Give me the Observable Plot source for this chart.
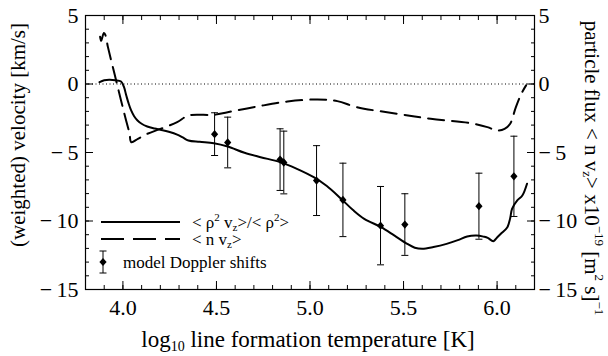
<!DOCTYPE html>
<html><head><meta charset="utf-8">
<script src="https://cdn.jsdelivr.net/npm/d3@7"></script>
<script src="https://cdn.jsdelivr.net/npm/@observablehq/plot@0.6"></script>
<style>
body{margin:0;background:#fff;}
#chart{width:608px;height:356px;}
</style></head><body><div id="chart"></div>
<script>
// --- data ---
const solidX = [3.875,3.90,3.93,3.96,3.99,4.005,4.018,4.03,4.044,4.06,4.078,4.10,4.13,4.17,4.20,4.25,4.29,4.32,4.35,4.41,4.486,4.56,4.65,4.736,4.84,4.93,5.02,5.09,5.164,5.23,5.29,5.38,5.45,5.52,5.56,5.60,5.66,5.73,5.79,5.84,5.89,5.93,5.95,5.98,6.00,6.02,6.055,6.07,6.08,6.108,6.135,6.16];
const solidY = [0.13,0.28,0.31,0.27,0.18,-0.2,-0.84,-1.4,-1.93,-2.35,-2.66,-2.9,-3.1,-3.25,-3.34,-3.5,-3.69,-3.9,-4.12,-4.22,-4.32,-4.56,-5.02,-5.34,-5.7,-6.19,-6.8,-7.45,-8.35,-9.2,-9.84,-10.45,-11.05,-11.67,-11.95,-12.03,-11.9,-11.67,-11.4,-11.13,-11.06,-11.15,-11.23,-11.47,-11.2,-10.93,-10.45,-9.8,-9.11,-8.5,-8.14,-7.28];
const dashX = [3.878,3.884,3.898,3.905,3.92,3.955,3.99,4.017,4.035,4.045,4.08,4.13,4.20,4.29,4.35,4.486,4.56,4.72,4.88,5.04,5.146,5.25,5.47,5.645,5.86,5.948,6.0,6.04,6.07,6.10,6.13,6.155];
const dashY = [3.45,3.15,3.72,3.62,2.69,0.74,-1.2,-2.66,-3.6,-4.25,-4.0,-3.64,-3.28,-2.79,-2.3,-2.25,-2.06,-1.64,-1.28,-1.13,-1.25,-1.69,-2.18,-2.54,-2.86,-3.15,-3.39,-3.27,-2.9,-1.7,-0.7,-0.1];
const obsX = [4.49,4.56,4.84,4.86,5.035,5.176,5.377,5.507,5.903,6.09];
const obsY = [-3.66,-4.27,-5.52,-5.73,-7.05,-8.46,-10.34,-10.26,-8.92,-6.74];
const obsErr = [1.56,1.85,2.25,2.29,2.55,2.68,2.86,2.25,2.41,2.93];
const xTicks = [4.0,4.5,5.0,5.5,6.0];
const xTickLabels = ["4.0","4.5","5.0","5.5","6.0"];
const xMinor = [3.8,3.9,4.0,4.1,4.2,4.3,4.4,4.5,4.6,4.7,4.8,4.9,5.0,5.1,5.2,5.3,5.4,5.5,5.6,5.7,5.8,5.9,6.0,6.1,6.2];
const yTicks = [-15,-10,-5,0,5];
const yTickLabels = ["\u2212\u200915","\u2212\u200910","\u2212\u20095","0","5"];
const yMinor = [-15,-14,-13,-12,-11,-10,-9,-8,-7,-6,-5,-4,-3,-2,-1,0,1,2,3,4,5];

const solid = solidX.map((x,i)=>({x, y: solidY[i]}));
const dash = dashX.map((x,i)=>({x, y: dashY[i]}));
const obs = obsX.map((x,i)=>({x, y: obsY[i], e: obsErr[i]}));

const capSym = {draw(ctx, size){ const r = Math.sqrt(size/Math.PI); ctx.moveTo(-r,0); ctx.lineTo(r,0); }};
const diaSym = {draw(ctx, size){ const r = Math.sqrt(size/Math.PI); ctx.moveTo(0,-r*1.15); ctx.lineTo(r,0); ctx.lineTo(0,r*1.15); ctx.lineTo(-r,0); ctx.closePath(); }};

const xLab = d => xTickLabels[xTicks.indexOf(d)];
const yLab = d => yTickLabels[yTicks.indexOf(d)];
const blank = () => "";

const FONT = "Liberation Serif";
const plot = Plot.plot({
  width: 608, height: 356,
  marginLeft: 85, marginRight: 74, marginTop: 15, marginBottom: 67,
  x: {domain: [3.8, 6.2]},
  y: {domain: [-15, 5]},
  style: {fontFamily: FONT, fontSize: "22px", color: "black", background: "white"},
  marks: [
    Plot.ruleY([0], {stroke: "black", strokeWidth: 1, strokeDasharray: "1,2.5"}),
    Plot.line(solid, {x: "x", y: "y", stroke: "black", strokeWidth: 2, curve: "catmull-rom"}),
    Plot.line(dash, {x: "x", y: "y", stroke: "black", strokeWidth: 2, strokeDasharray: "16,8", curve: "catmull-rom"}),
    Plot.ruleX(obs, {x: "x", y1: d => d.y - d.e, y2: d => d.y + d.e, stroke: "black", strokeWidth: 1}),
    Plot.dot(obs, {x: "x", y: d => d.y - d.e, symbol: capSym, r: 3.5, stroke: "black", fill: "none", strokeWidth: 1}),
    Plot.dot(obs, {x: "x", y: d => d.y + d.e, symbol: capSym, r: 3.5, stroke: "black", fill: "none", strokeWidth: 1}),
    Plot.dot(obs, {x: "x", y: "y", symbol: diaSym, r: 3.6, fill: "black", stroke: "none"}),
    Plot.frame({stroke: "black", strokeWidth: 1.2}),
    Plot.axisX(xMinor, {anchor: "bottom", tickSize: -4, tickFormat: blank, label: null}),
    Plot.axisX(xMinor, {anchor: "top", tickSize: -4, tickFormat: blank, label: null}),
    Plot.axisX(xTicks, {anchor: "bottom", tickSize: -8, tickFormat: blank, label: null}),
    Plot.axisX(xTicks, {anchor: "top", tickSize: -8, tickFormat: blank, label: null}),
    Plot.axisX(xTicks, {anchor: "bottom", tickSize: 0, tickPadding: 10, tickFormat: xLab, label: null}),
    Plot.axisY(yMinor, {anchor: "left", tickSize: -4, tickFormat: blank, label: null}),
    Plot.axisY(yMinor, {anchor: "right", tickSize: -4, tickFormat: blank, label: null}),
    Plot.axisY(yTicks, {anchor: "left", tickSize: -8, tickFormat: blank, label: null}),
    Plot.axisY(yTicks, {anchor: "right", tickSize: -8, tickFormat: blank, label: null}),
    Plot.axisY(yTicks, {anchor: "left", tickSize: 0, tickPadding: 7, tickFormat: yLab, label: null}),
    Plot.axisY(yTicks, {anchor: "right", tickSize: 0, tickPadding: 4, tickFormat: yLab, label: null})
  ]
});
document.getElementById("chart").appendChild(plot);

// --- titles and legend (rich text) ---
const svg = d3.select(plot);
const g = svg.append("g").attr("font-family", FONT).attr("fill", "black");

// x title
const xt = g.append("text").attr("x", 308).attr("y", 347).attr("text-anchor", "middle").attr("font-size", 23);
xt.append("tspan").text("log");
xt.append("tspan").attr("font-size", 14).attr("dy", 4).text("10");
xt.append("tspan").attr("dy", -4).text(" line formation temperature [K]");

// left title
g.append("text").attr("transform", "translate(18,135) rotate(-90)").attr("text-anchor", "middle")
  .attr("dominant-baseline", "central").attr("font-size", 21).text("(weighted) velocity [km/s]");

// right title
const rt = g.append("text").attr("transform", "translate(592,168) rotate(90)").attr("text-anchor", "middle")
  .attr("dominant-baseline", "central").attr("font-size", 21);
rt.append("tspan").text("particle flux < n v");
rt.append("tspan").attr("font-size", 13).attr("dy", 4).text("z");
rt.append("tspan").attr("dy", -4).text("> x10");
rt.append("tspan").attr("font-size", 13).attr("dy", -8).text("\u221219");
rt.append("tspan").attr("dy", 8).text(" [m");
rt.append("tspan").attr("font-size", 13).attr("dy", -8).text("2");
rt.append("tspan").attr("dy", 8).text(" s]");
rt.append("tspan").attr("font-size", 13).attr("dy", -8).text("\u22121");

// legend
const lg = g.append("g").attr("font-size", 17).attr("text-anchor", "start");
lg.append("line").attr("x1", 101).attr("x2", 180).attr("y1", 222).attr("y2", 222).attr("stroke", "black").attr("stroke-width", 2);
lg.append("line").attr("x1", 101).attr("x2", 180).attr("y1", 239).attr("y2", 239).attr("stroke", "black").attr("stroke-width", 2).attr("stroke-dasharray", "23,9");
const t1 = lg.append("text").attr("x", 192).attr("y", 228);
t1.append("tspan").text("< \u03c1");
t1.append("tspan").attr("font-size", 11).attr("dy", -7).text("2");
t1.append("tspan").attr("dy", 7).text(" v");
t1.append("tspan").attr("font-size", 11).attr("dy", 3).text("z");
t1.append("tspan").attr("dy", -3).text(">/< \u03c1");
t1.append("tspan").attr("font-size", 11).attr("dy", -7).text("2");
t1.append("tspan").attr("dy", 7).text(">");
const t2 = lg.append("text").attr("x", 192).attr("y", 245);
t2.append("tspan").text("< n v");
t2.append("tspan").attr("font-size", 11).attr("dy", 3).text("z");
t2.append("tspan").attr("dy", -3).text(">");
lg.append("line").attr("x1", 103).attr("x2", 103).attr("y1", 251).attr("y2", 273).attr("stroke", "black");
lg.append("line").attr("x1", 99.5).attr("x2", 106.5).attr("y1", 251).attr("y2", 251).attr("stroke", "black");
lg.append("line").attr("x1", 99.5).attr("x2", 106.5).attr("y1", 273).attr("y2", 273).attr("stroke", "black");
lg.append("path").attr("d", "M103,257.9L106.6,262L103,266.1L99.4,262Z").attr("fill", "black");
lg.append("text").attr("x", 123).attr("y", 268).text("model Doppler shifts");
</script>
</body></html>
